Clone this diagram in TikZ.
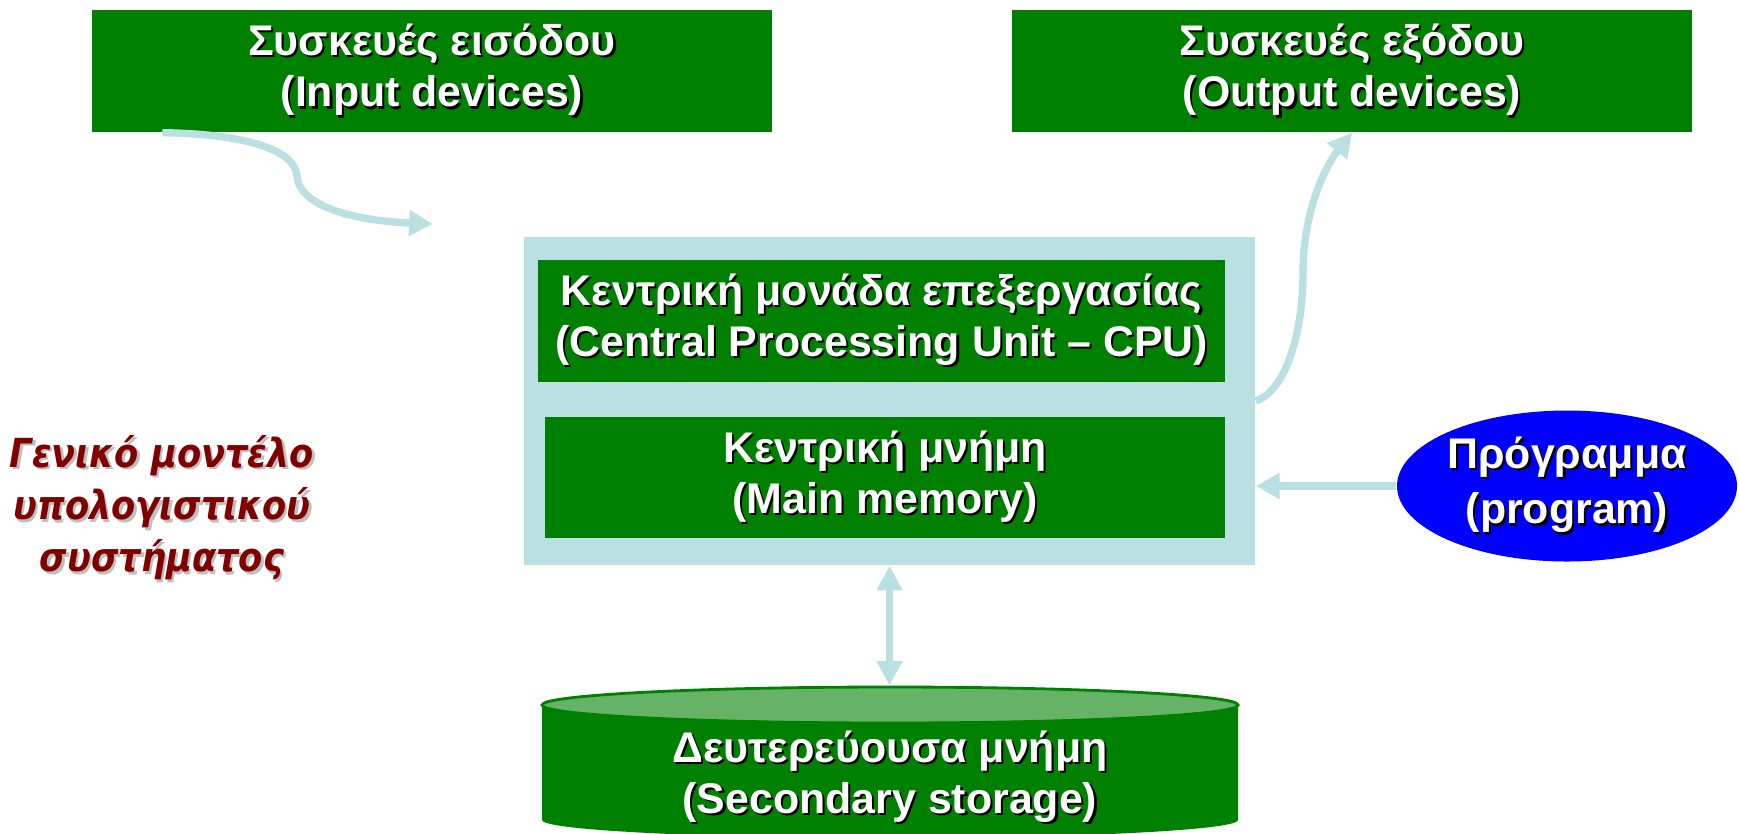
\documentclass[tikz,border=0pt]{standalone}
\usepackage{fontspec}
\setmainfont{Liberation Sans}
\newfontfamily\mottofont[FakeStretch=0.88]{DejaVu Sans}
\usepackage{xcolor}
\usepackage{tikz}
\usetikzlibrary{shapes.geometric,arrows.meta,positioning,calc}

\definecolor{unitgreen}{RGB}{0,128,0}
\definecolor{disklid}{RGB}{102,178,102}
\definecolor{paleblue}{RGB}{186,224,228}
\definecolor{progblue}{RGB}{0,0,255}
\definecolor{mottored}{RGB}{128,0,0}

% white letters with a dark drop shadow
\newcommand\shadowed[1]{\leavevmode\rlap{\kern0.6pt\raisebox{-0.6pt}{\color{black}#1}}#1}
\newcommand\softshadowed[1]{\leavevmode\rlap{\kern0.7pt\raisebox{-0.7pt}{\color{black!25}#1}}#1}

\begin{document}
\begin{tikzpicture}[
  unit/.style={rectangle, fill=unitgreen, text=white, align=center, inner sep=0pt,
    font=\bfseries\fontsize{12.2}{14.6}\selectfont},
  flow/.style={paleblue, line width=2.1pt, -{Triangle[width=7pt,length=6.8pt]}},
  flowboth/.style={paleblue, line width=2.1pt,
    {Triangle[width=7pt,length=7pt]}-{Triangle[width=7pt,length=7pt]}}
]
  \useasboundingbox (0,0) rectangle (17.39,8.33);

  \node[unit, minimum width=6.80cm, minimum height=1.22cm] (input) at (4.32,7.62) {\shadowed{Συσκευές εισόδου}\\\shadowed{(Input devices)}};
  \node[unit, minimum width=6.80cm, minimum height=1.22cm] (output) at (13.52,7.62) {\shadowed{Συσκευές εξόδου}\\\shadowed{(Output devices)}};

  \node[rectangle, fill=paleblue, minimum width=7.31cm, minimum height=3.28cm] (core) at (8.895,4.32) {};
  \node[unit, minimum width=6.87cm, minimum height=1.22cm] (cpu) at (8.815,5.12) {\shadowed{Κεντρική μονάδα επεξεργασίας}\\\shadowed{(Central Processing Unit – CPU)}};
  \node[unit, minimum width=6.80cm, minimum height=1.21cm] (memory) at (8.85,3.555) {\shadowed{Κεντρική μνήμη}\\\shadowed{(Main memory)}};

  \node[unit, ellipse, fill=progblue, minimum width=3.40cm, minimum height=1.51cm,
    font=\bfseries\fontsize{12.2}{15.8}\selectfont] (program) at (15.67,3.47) {\shadowed{Πρόγραμμα}\\\shadowed{(program)}};

  % secondary storage drum
  \fill[unitgreen] (5.42,1.28) -- (5.42,0.13) arc[start angle=180, end angle=360, x radius=3.48cm, y radius=0.18cm] -- (12.38,1.28) -- cycle;
  \node[ellipse, draw=unitgreen, line width=0.8pt, fill=disklid, inner sep=0pt, minimum width=6.96cm, minimum height=0.36cm] (disktop) at (8.90,1.28) {};
  \node[unit, fill=none] (storage) at (8.90,0.55) {\shadowed{Δευτερεύουσα μνήμη}\\\shadowed{(Secondary storage)}};

  \node[align=center, text=mottored, font=\mottofont\bfseries\itshape\fontsize{11.4}{14.9}\selectfont] (motto) at (1.62,3.24) {\softshadowed{Γενικό μοντέλο}\\\softshadowed{υπολογιστικού}\\\softshadowed{συστήματος}};

  \coordinate (inbend) at (2.97,6.57);
  \coordinate (inputend) at (4.33,6.09);
  \coordinate (outbend) at (13.03,5.60);

  \draw[flow] ([xshift=0.71cm]input.south west) .. controls +(0.77,-0.01) and +(-0.02,0.28) .. (inbend) .. controls +(0.02,-0.32) and +(-0.73,0.03) .. (inputend);
  \draw[flow] (core.east) .. controls +(0.30,0.10) and +(0,-0.60) .. (outbend) .. controls +(0,0.70) and +(-0.21,-0.26) .. (output.south);
  \draw[flow] (program.west) -- (program.west -| core.east);
  \draw[flowboth] (core.south) -- (core.south |- disktop.north);
\end{tikzpicture}
\end{document}
